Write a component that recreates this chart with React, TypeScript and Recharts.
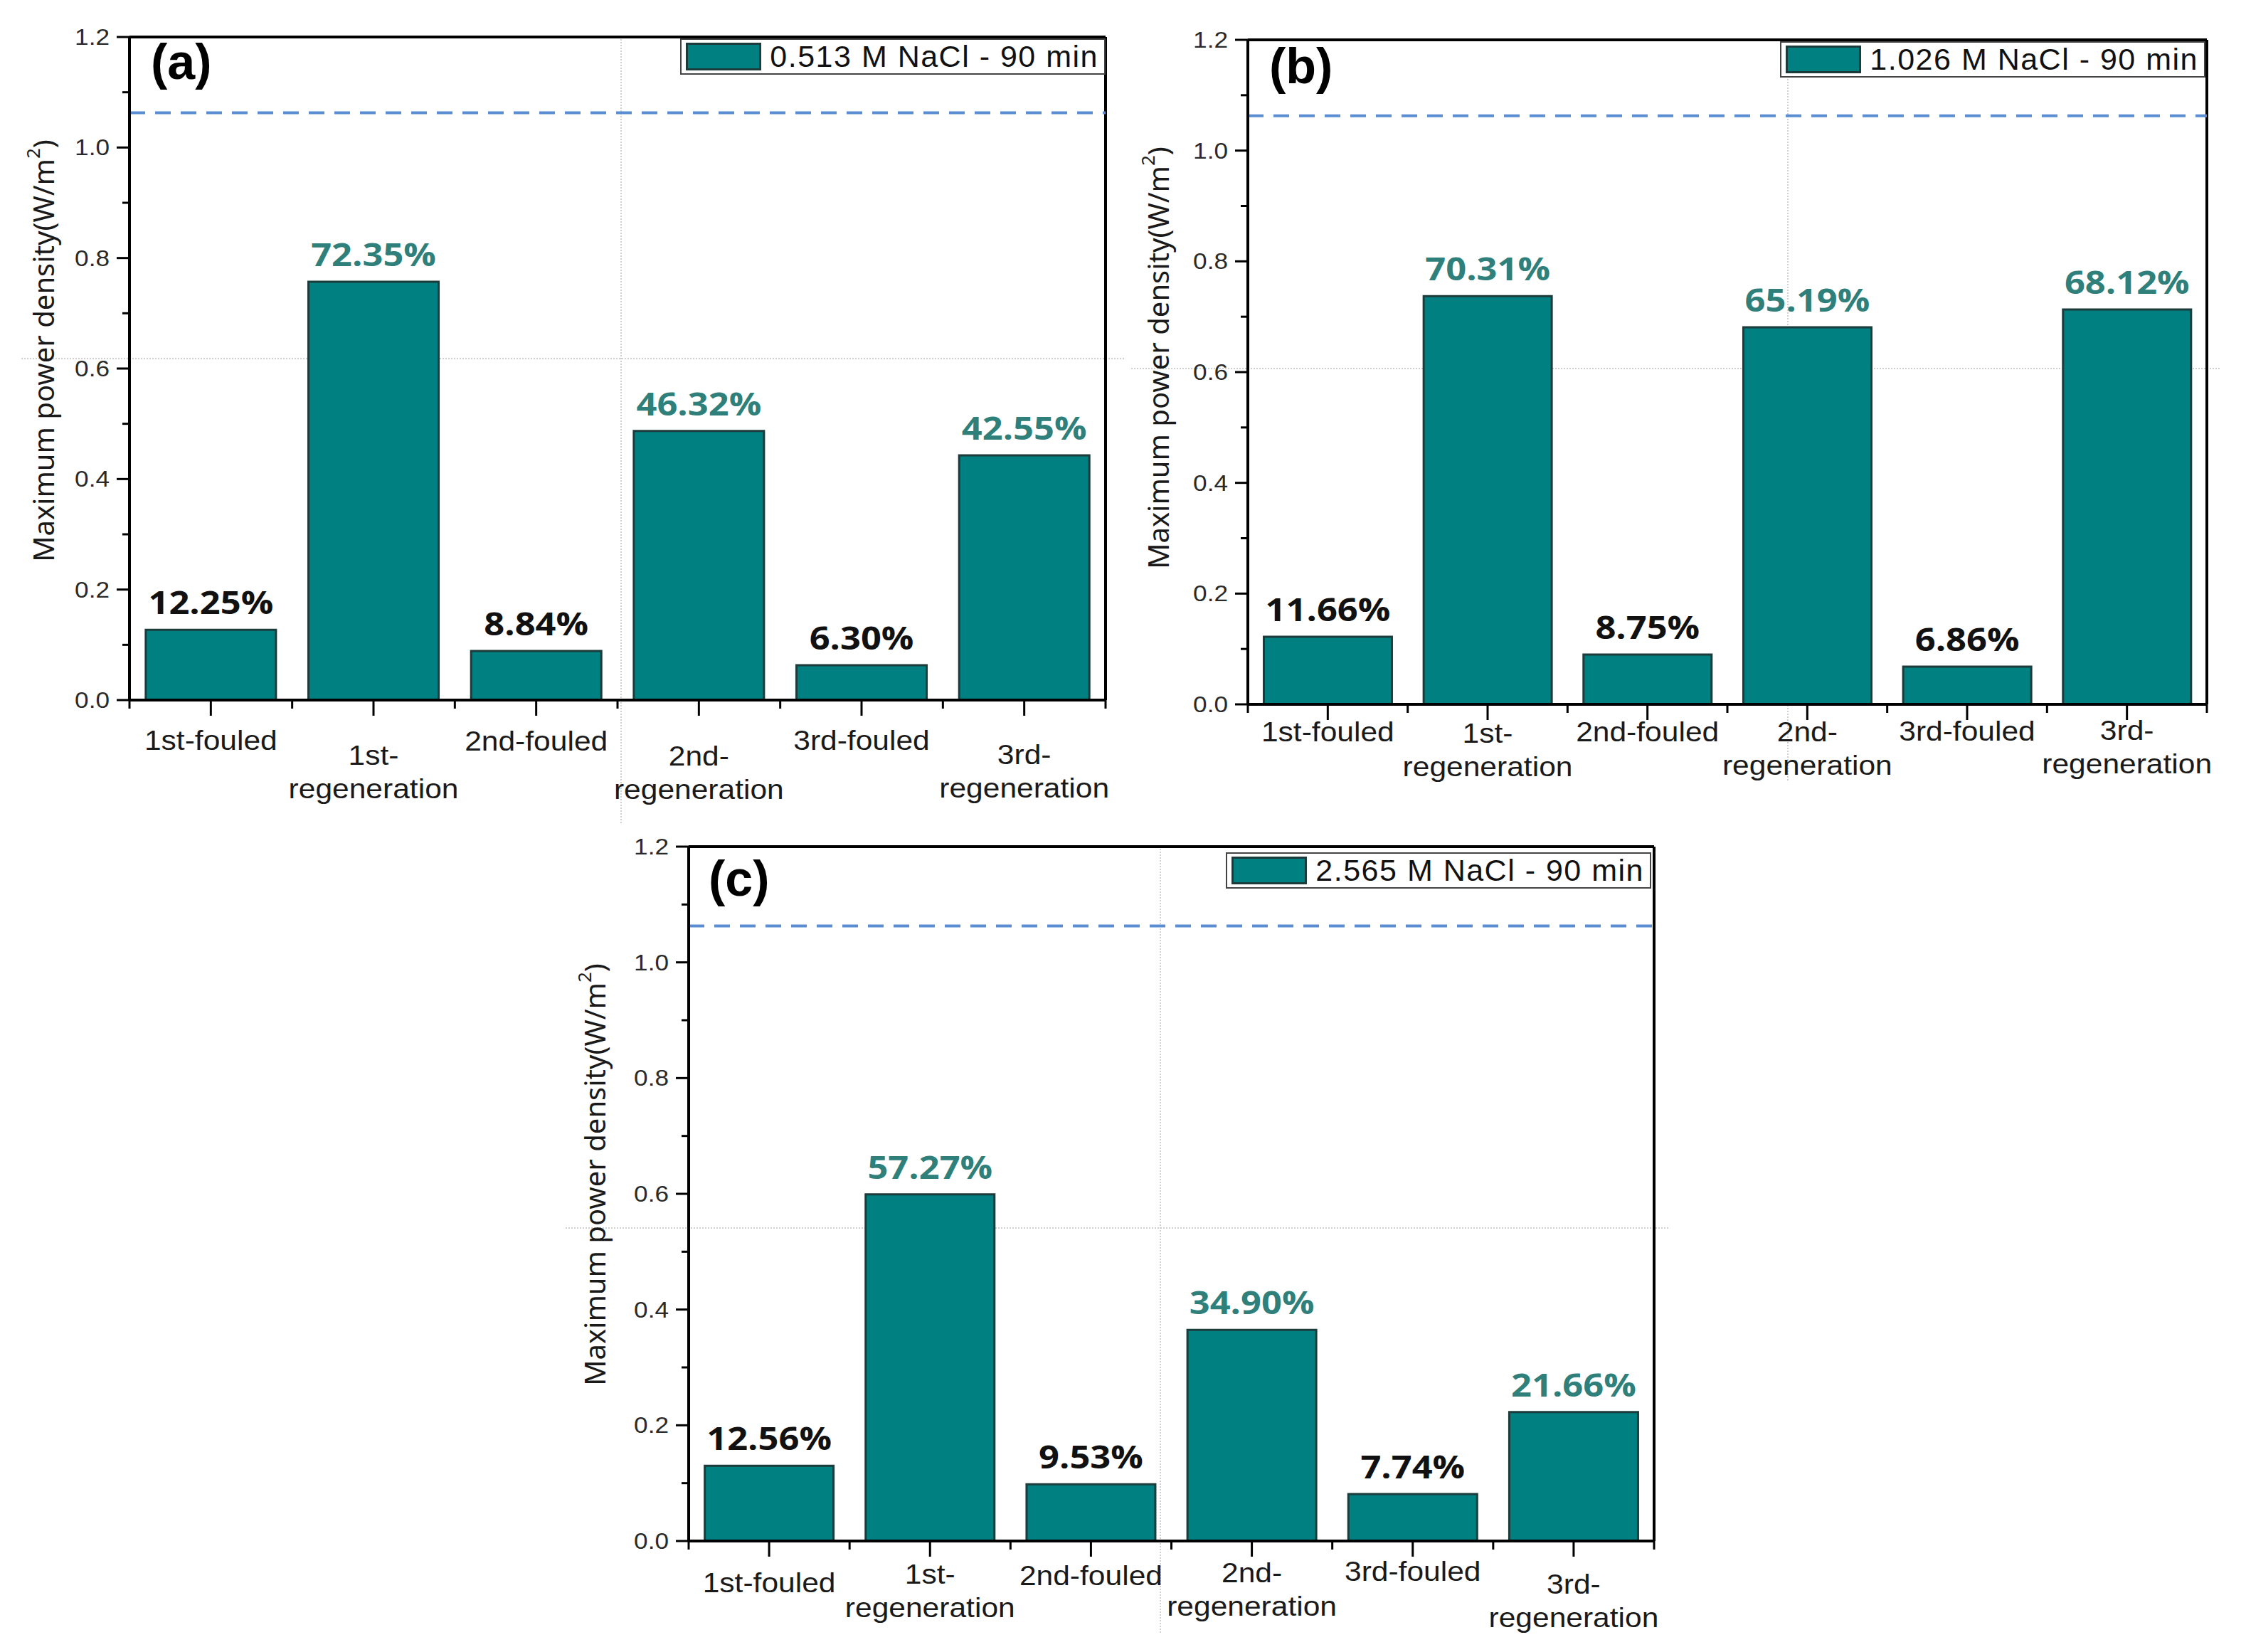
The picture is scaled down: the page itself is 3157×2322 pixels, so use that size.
import React from "react";
import { BarChart, Bar, XAxis, YAxis, ReferenceLine, LabelList, Legend } from "recharts";

const categories = [
  "1st-fouled",
  "1st-regeneration",
  "2nd-fouled",
  "2nd-regeneration",
  "3rd-fouled",
  "3rd-regeneration",
];
const tickLines = [
  ["1st-fouled"],
  ["1st-", "regeneration"],
  ["2nd-fouled"],
  ["2nd-", "regeneration"],
  ["3rd-fouled"],
  ["3rd-", "regeneration"],
];
const yTicks = [0, 0.1, 0.2, 0.3, 0.4, 0.5, 0.6, 0.7, 0.8, 0.9, 1.0, 1.1, 1.2];
const yMax = 1.2;
const referenceLevel = 1.063;

const valuesA = [0.127, 0.757, 0.089, 0.487, 0.063, 0.443];
const pctA = ["12.25%", "72.35%", "8.84%", "46.32%", "6.30%", "42.55%"];
const legendA = "0.513 M NaCl - 90 min";

const valuesB = [0.122, 0.737, 0.09, 0.681, 0.068, 0.713];
const pctB = ["11.66%", "70.31%", "8.75%", "65.19%", "6.86%", "68.12%"];
const legendB = "1.026 M NaCl - 90 min";

const valuesC = [0.13, 0.599, 0.098, 0.365, 0.081, 0.223];
const pctC = ["12.56%", "57.27%", "9.53%", "34.90%", "7.74%", "21.66%"];
const legendC = "2.565 M NaCl - 90 min";

const TEAL = "#008080";
const BAR_EDGE = "#1c3b3b";
const PCT_TEAL = "#2f7f7b";
const SANS = "'Liberation Sans', Arial, sans-serif";
const PCT_FONT = "'Open Sans', sans-serif";
const TITLE_FONT = "'Noto Sans', sans-serif";
const Y_AXIS_W = 160;
const X_AXIS_H = 140;

const build = (values: number[], pct: string[]) =>
  categories.map((name, i) => ({ name, value: values[i], pct: pct[i] }));

const panels = [
  {
    id: "a",
    letter: "(a)",
    data: build(valuesA, pctA),
    legend: legendA,
    left: 0,
    top: 0,
    width: 1600,
    height: 1160,
    margin: { top: 52, right: 46, left: 22, bottom: 36 },
    labelDy: [56, 77, 57, 78, 56, 76],
    titleX: 60,
    titleDy: -25,
    legendPos: { top: 54, right: 46 },
    letterPos: { left: 212, top: 52 },
    hGuide: { top: 503, left: 30, width: 1550 },
    vGuide: { left: 872, top: 50, height: 1107 },
  },
  {
    id: "b",
    letter: "(b)",
    data: build(valuesB, pctB),
    legend: legendB,
    left: 1590,
    top: 0,
    width: 1567,
    height: 1160,
    margin: { top: 56, right: 55, left: 4, bottom: 30 },
    labelDy: [38, 40, 38, 38, 37, 36],
    titleX: 37,
    titleDy: -20,
    legendPos: { top: 58, right: 57 },
    letterPos: { left: 1784, top: 58 },
    hGuide: { top: 517, left: 1590, width: 1530 },
    vGuide: { left: 2512, top: 60, height: 1037 },
  },
  {
    id: "c",
    letter: "(c)",
    data: build(valuesC, pctC),
    legend: legendC,
    left: 780,
    top: 1160,
    width: 1600,
    height: 1162,
    margin: { top: 30, right: 55, left: 28, bottom: 16 },
    labelDy: [58, 46, 48, 44, 42, 60],
    titleX: 55,
    titleDy: -27,
    legendPos: { top: 38, right: 59 },
    letterPos: { left: 996, top: 1200 },
    hGuide: { top: 1725, left: 795, width: 1550 },
    vGuide: { left: 1630, top: 1188, height: 1107 },
  },
];

function PctLabel(props: any) {
  const vb = props.viewBox ?? props;
  const x = props.x ?? vb.x;
  const y = props.y ?? vb.y;
  const w = props.width ?? vb.width;
  const cx = x + w / 2;
  return (
    <text
      transform={`translate(${cx}, ${y - 22}) scale(1.15, 1)`}
      textAnchor="middle"
      fontFamily={PCT_FONT}
      fontWeight={700}
      fontSize={44}
      fill={props.index % 2 === 1 ? PCT_TEAL : "#111"}
    >
      {props.value}
    </text>
  );
}

function Panel({ p }: { p: (typeof panels)[number] }) {
  const plotW = p.width - p.margin.left - p.margin.right - Y_AXIS_W;
  const half = plotW / categories.length / 2;

  const xTick = (props: any) => {
    const { x, y, index } = props;
    const lines = tickLines[index];
    return (
      <g>
        <line x1={x} x2={x} y1={y} y2={y + 22} stroke="#000" strokeWidth={3} />
        <line x1={x - half} x2={x - half} y1={y} y2={y + 12} stroke="#000" strokeWidth={3} />
        {index === categories.length - 1 && (
          <line x1={x + half} x2={x + half} y1={y} y2={y + 12} stroke="#000" strokeWidth={3} />
        )}
        <text
          transform={`translate(${x}, ${y + p.labelDy[index] + 14}) scale(1.12, 1)`}
          textAnchor="middle"
          fontFamily={SANS}
          fontSize={38}
          fill="#1a1a1a"
        >
          {lines.map((l, i) => (
            <tspan key={i} x={0} dy={i === 0 ? 0 : 47}>
              {l}
            </tspan>
          ))}
        </text>
      </g>
    );
  };

  const yTick = (props: any) => {
    const { x, y, payload } = props;
    const major = Math.round(payload.value * 10) % 2 === 0;
    return (
      <g>
        <line x1={x - (major ? 18 : 10)} x2={x} y1={y} y2={y} stroke="#000" strokeWidth={3} />
        {major && (
          <text
            transform={`translate(${x - 28}, ${y + 11}) scale(1.1, 1)`}
            textAnchor="end"
            fontFamily={SANS}
            fontSize={32}
            fill="#2a2a2a"
          >
            {payload.value.toFixed(1)}
          </text>
        )}
      </g>
    );
  };

  const yTitle = (props: any) => {
    const vb = props.viewBox;
    const cy = vb.y + vb.height / 2 + p.titleDy;
    const cx = p.titleX;
    return (
      <text
        x={cx}
        y={cy}
        transform={`rotate(-90, ${cx}, ${cy})`}
        textAnchor="middle"
        dominantBaseline="central"
        fontFamily={TITLE_FONT}
        fontSize={40}
        fill="#1a1a1a"
      >
        Maximum power density(W/m
        <tspan dy={-14} fontSize={26}>
          2
        </tspan>
        <tspan dy={14}>)</tspan>
      </text>
    );
  };

  const legendContent = (props: any) => {
    const item = props.payload && props.payload[0];
    return (
      <div
        style={{
          display: "flex",
          alignItems: "center",
          border: "2px solid #444",
          background: "#fff",
          padding: "3px 8px 3px 6px",
          height: 41,
          boxSizing: "content-box",
        }}
      >
        <div
          style={{
            width: 100,
            height: 33,
            background: TEAL,
            border: `3px solid ${BAR_EDGE}`,
            marginRight: 12,
          }}
        />
        <span
          style={{
            fontFamily: SANS,
            fontSize: 43,
            letterSpacing: 1.5,
            color: "#111",
            lineHeight: "41px",
            whiteSpace: "nowrap",
          }}
        >
          {item ? item.value : p.legend}
        </span>
      </div>
    );
  };

  return (
    <div style={{ position: "absolute", left: p.left, top: p.top, width: p.width, height: p.height }}>
      <BarChart width={p.width} height={p.height} data={p.data} margin={p.margin} barCategoryGap="10%">
        <XAxis
          dataKey="name"
          height={X_AXIS_H}
          interval={0}
          tickSize={0}
          tickMargin={0}
          tickLine={false}
          tick={xTick}
          axisLine={{ stroke: "#000", strokeWidth: 4 }}
        />
        <YAxis
          width={Y_AXIS_W}
          domain={[0, yMax]}
          ticks={yTicks}
          interval={0}
          tickSize={0}
          tickMargin={0}
          tickLine={false}
          tick={yTick}
          axisLine={{ stroke: "#000", strokeWidth: 4 }}
          label={yTitle}
        />
        <Legend
          verticalAlign="middle"
          content={legendContent}
          wrapperStyle={{ top: p.legendPos.top, right: p.legendPos.right, left: "auto", width: "auto" }}
        />
        <ReferenceLine y={yMax} stroke="#000" strokeWidth={4} />
        <ReferenceLine
          x={categories[categories.length - 1]}
          position="end"
          stroke="#000"
          strokeWidth={4}
        />
        <ReferenceLine
          y={referenceLevel}
          stroke="#5b8dd2"
          strokeWidth={4}
          strokeDasharray="22 14"
        />
        <Bar
          dataKey="value"
          name={p.legend}
          fill={TEAL}
          stroke={BAR_EDGE}
          strokeWidth={3}
          isAnimationActive={false}
        >
          <LabelList dataKey="pct" content={PctLabel} />
        </Bar>
      </BarChart>
    </div>
  );
}

export default function App() {
  return (
    <div
      style={{
        position: "absolute",
        left: 0,
        top: 0,
        width: 3157,
        height: 2322,
        background: "#fff",
        overflow: "hidden",
      }}
    >
      {panels.map((p) => (
        <React.Fragment key={p.id}>
          <div
            style={{
              position: "absolute",
              left: p.hGuide.left,
              top: p.hGuide.top,
              width: p.hGuide.width,
              borderTop: "2px dotted #cfcfcf",
            }}
          />
          <div
            style={{
              position: "absolute",
              left: p.vGuide.left,
              top: p.vGuide.top,
              height: p.vGuide.height,
              borderLeft: "2px dotted #cfcfcf",
            }}
          />
          <Panel p={p} />
          <div
            style={{
              position: "absolute",
              left: p.letterPos.left,
              top: p.letterPos.top,
              fontFamily: SANS,
              fontWeight: 700,
              fontSize: 70,
              lineHeight: 1,
              color: "#000",
            }}
          >
            {p.letter}
          </div>
        </React.Fragment>
      ))}
    </div>
  );
}
